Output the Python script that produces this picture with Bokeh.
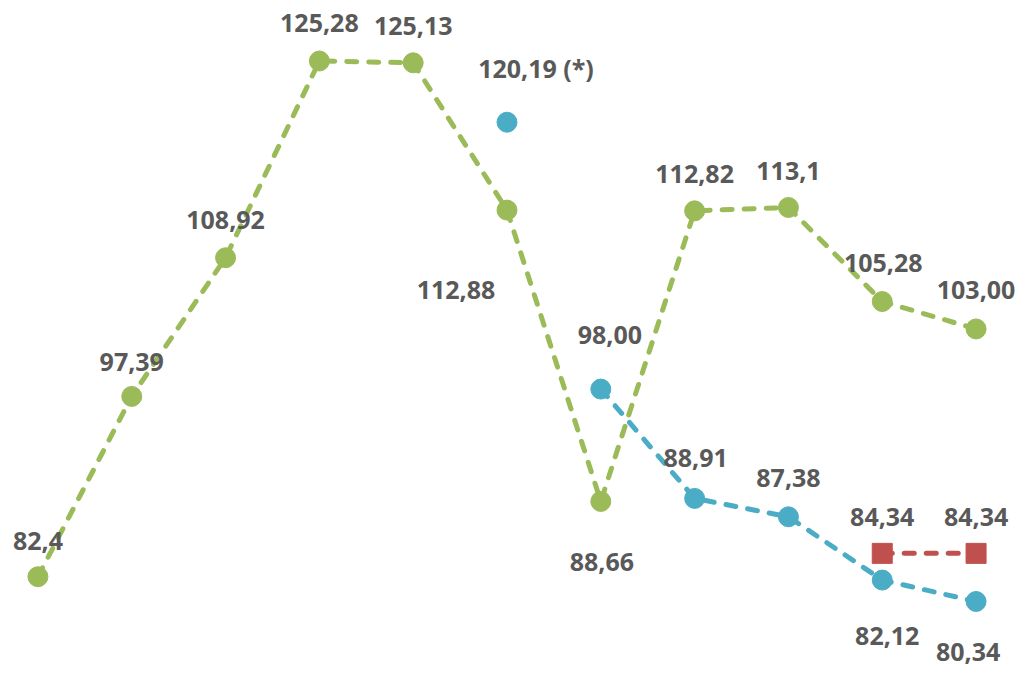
from bokeh.plotting import figure
from bokeh.models import ColumnDataSource, Range1d
from bokeh.core.properties import value
from bokeh.embed import file_html
from bokeh.resources import INLINE

x = list(range(11))
green = [82.4, 97.39, 108.92, 125.28, 125.13, 112.88, 88.66, 112.82, 113.1, 105.28, 103.00]
green_labels = ["82,4", "97,39", "108,92", "125,28", "125,13", "112,88", "88,66", "112,82", "113,1", "105,28", "103,00"]
blue_x = [5, 6, 7, 8, 9, 10]
blue = [120.19, 98.00, 88.91, 87.38, 82.12, 80.34]
blue_labels = ["120,19 (*)", "98,00", "88,91", "87,38", "82,12", "80,34"]
red_x = [9, 10]
red = [84.34, 84.34]
red_labels = ["84,34", "84,34"]

GREEN = "#9BBB59"
BLUE = "#4BACC6"
RED = "#C0504D"
TXT = "#595959"

p = figure(width=1016, height=670, output_backend="svg", toolbar_location=None,
           x_range=Range1d(-0.399, 10.431), y_range=Range1d(74.60, 130.31),
           min_border=0)
p.axis.visible = False
p.grid.visible = False
p.outline_line_color = None

dash = "10 12"
p.line(x, green, line_color=GREEN, line_width=5, line_dash=dash, line_cap="round")
p.line(blue_x[1:], blue[1:], line_color=BLUE, line_width=5, line_dash=dash, line_cap="round")
p.line(red_x, red, line_color=RED, line_width=5, line_dash=dash, line_cap="round")

p.scatter(x, green, size=20, fill_color=GREEN, line_color=GREEN)
p.scatter(blue_x, blue, size=20, fill_color=BLUE, line_color=BLUE)
p.scatter(red_x, red, marker="square", size=20, fill_color=RED, line_color=RED)

font = value("Open Sans")

# label offsets in screen pixels (dx, dy with y downward)
g_off = [(0, -36), (0, -34), (0, -38), (0, -38), (0, -37), (-51, 80), (1, 61), (0, -37), (0, -36), (1, -39), (0, -39)]
b_off = [(29, -54), (9, -54), (1, -40), (0, -39), (5, 56), (-8, 51)]
r_off = [(0, -36), (0, -36)]

def add_labels(xs, ys, labels, offs):
    src = ColumnDataSource(dict(x=xs, y=ys, t=labels,
                                dx=[o[0] for o in offs], dy=[o[1] for o in offs]))
    p.text("x", "y", text="t", source=src, x_offset="dx", y_offset="dy",
           text_font=font, text_font_style="bold", text_font_size="25px",
           text_color=TXT, text_align="center", text_baseline="middle")

add_labels(x, green, green_labels, g_off)
add_labels(blue_x, blue, blue_labels, b_off)
add_labels(red_x, red, red_labels, r_off)

open("out.html", "w").write(file_html(p, INLINE))
